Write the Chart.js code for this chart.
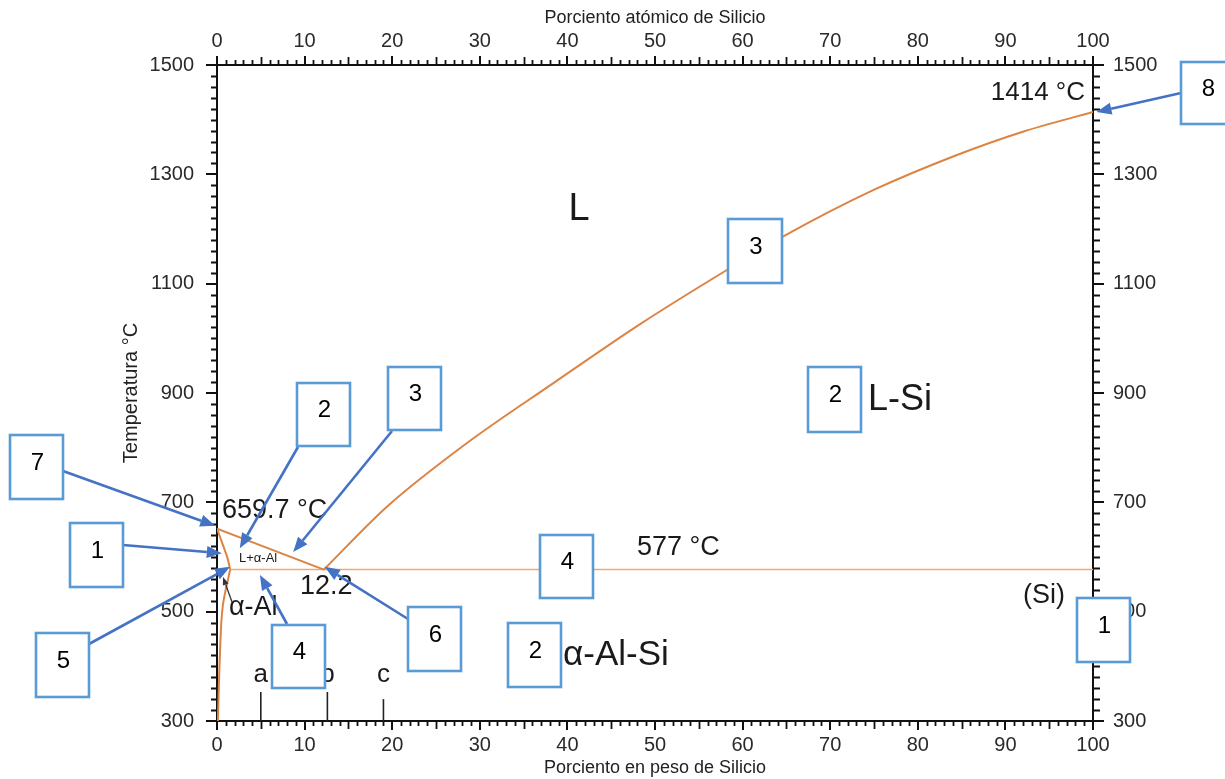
<!DOCTYPE html>
<html><head><meta charset="utf-8">
<script src="https://cdn.jsdelivr.net/npm/chart.js@4.4.1/dist/chart.umd.min.js"></script>
<style>html,body{margin:0;padding:0;background:#fff;}canvas{display:block;}</style>
</head><body>
<canvas id="c" width="1225" height="779"></canvas>
<script>
// ---- data (wt% Si, temperature °C) ----
const liquidusAlWt   = [0, 12.2];
const liquidusAlTemp = [652, 577];
const liquidusSiWt   = [12.2, 19.4, 28.5, 38.4, 48.3, 58.2, 64.6, 74.9, 84.4, 92.0, 100];
const liquidusSiTemp = [577, 692, 808, 918, 1026, 1125, 1186, 1271, 1335, 1378, 1414];
const solidusWt      = [0, 0.65, 1.2, 1.5];
const solidusTemp    = [652, 623, 598, 577];
const solvusWt       = [1.5, 0.65, 0.34, 0.1];
const solvusTemp     = [577, 509, 424, 300];
const eutecticWt     = [1.5, 100];
const eutecticTemp   = [577, 577];
const alloyNames     = ['a', 'b', 'c'];
const alloyWt        = [5, 12.6, 19];
const alloyMarkTop   = [353, 353, 340];
// ---- tick labels ----
const wtTicks   = [0, 10, 20, 30, 40, 50, 60, 70, 80, 90, 100];
const atTicks   = [0, 10, 20, 30, 40, 50, 60, 70, 80, 90, 100];
const tempTicks = [300, 500, 700, 900, 1100, 1300, 1500];

const FONT = '"Liberation Sans", Arial, Helvetica, sans-serif';
const ORANGE = '#DC8444';
const zip = (xs, ys) => xs.map((v, i) => ({x: v, y: ys[i]}));

const lineDs = (label, xs, ys, extra) => Object.assign({
  label, data: zip(xs, ys), showLine: true, pointRadius: 0, borderColor: ORANGE,
  borderWidth: 2, fill: false, tension: 0
}, extra || {});

const datasets = [
  lineDs('Líquidus Al', liquidusAlWt, liquidusAlTemp),
  lineDs('Líquidus Si', liquidusSiWt, liquidusSiTemp, {cubicInterpolationMode: 'monotone'}),
  lineDs('Sólidus', solidusWt, solidusTemp, {tension: 0.35}),
  lineDs('Solvus', solvusWt, solvusTemp, {tension: 0.35}),
  lineDs('Eutéctica', eutecticWt, eutecticTemp, {borderColor: '#EFA976', borderWidth: 1.4}),
];
alloyNames.forEach((n, i) => {
  datasets.push(lineDs('Aleación ' + n, [alloyWt[i], alloyWt[i]], [300, alloyMarkTop[i]],
    {borderColor: '#222', borderWidth: 1.6}));
});

// ---- annotation layout (decoration) ----
const texts = [
  {t: 'L', x: 579, y: 210, size: 38, align: 'center'},
  {t: 'L-Si', x: 868, y: 400, size: 36, align: 'left'},
  {t: 'α-Al-Si', x: 563, y: 655, size: 35, align: 'left'},
  {t: '1414 °C', x: 1085, y: 93, size: 26, align: 'right'},
  {t: '659.7 °C', x: 222, y: 511, size: 27, align: 'left'},
  {t: 'L+α-Al', x: 239, y: 558, size: 13, align: 'left'},
  {t: '12.2', x: 300, y: 587, size: 27, align: 'left'},
  {t: 'α-Al', x: 229, y: 608, size: 27, align: 'left'},
  {t: '577 °C', x: 637, y: 548, size: 27, align: 'left'},
  {t: '(Si)', x: 1023, y: 596, size: 27, align: 'left'},
];
const boxes = [
  {n: '8', x: 1181, y: 62,  w: 53, h: 62, from: [1181, 93], to: [100.4, 1414]},
  {n: '3', x: 728,  y: 219, w: 54, h: 64},
  {n: '2', x: 808,  y: 367, w: 53, h: 65},
  {n: '2', x: 297,  y: 383, w: 53, h: 63, from: [298, 447], to: [2.6, 616]},
  {n: '3', x: 388,  y: 367, w: 53, h: 63, from: [392, 431], to: [8.7, 609]},
  {n: '7', x: 10,   y: 435, w: 53, h: 64, from: [63, 471], to: [-0.2, 657]},
  {n: '1', x: 70,   y: 523, w: 53, h: 64, from: [123, 545], to: [0.55, 607]},
  {n: '5', x: 36,   y: 633, w: 53, h: 64, from: [89, 644], to: [1.5, 582]},
  {n: '4', x: 272,  y: 625, w: 53, h: 63, from: [287, 624], to: [4.9, 567]},
  {n: '6', x: 408,  y: 607, w: 53, h: 64, from: [408, 619], to: [12.3, 582]},
  {n: '4', x: 540,  y: 535, w: 53, h: 63},
  {n: '2', x: 508,  y: 623, w: 53, h: 64},
  {n: '1', x: 1077, y: 598, w: 53, h: 64},
];

function drawArrow(ctx, x1, y1, x2, y2, color, lw, hl, hw) {
  const ang = Math.atan2(y2 - y1, x2 - x1);
  const bx = x2 - hl * Math.cos(ang), by = y2 - hl * Math.sin(ang);
  ctx.strokeStyle = color; ctx.fillStyle = color; ctx.lineWidth = lw;
  ctx.beginPath(); ctx.moveTo(x1, y1); ctx.lineTo(bx, by); ctx.stroke();
  ctx.beginPath();
  ctx.moveTo(x2, y2);
  ctx.lineTo(bx + hw / 2 * Math.sin(ang), by - hw / 2 * Math.cos(ang));
  ctx.lineTo(bx - hw / 2 * Math.sin(ang), by + hw / 2 * Math.cos(ang));
  ctx.closePath(); ctx.fill();
}

const decor = {
  id: 'decor',
  afterDraw(chart) {
    const {ctx, chartArea: a} = chart;
    const sx = chart.scales.x, sy = chart.scales.y;
    ctx.save();
    // minor ticks
    ctx.strokeStyle = '#111'; ctx.lineWidth = 1.8;
    ctx.beginPath();
    for (let v = 1; v < 100; v++) {
      if (v % 10 === 0) continue;
      const px = Math.round(sx.getPixelForValue(v)) + 0.5;
      const len = v % 5 === 0 ? 8 : 5;
      ctx.moveTo(px, a.bottom); ctx.lineTo(px, a.bottom + len);
      ctx.moveTo(px, a.top); ctx.lineTo(px, a.top - len);
    }
    for (let t = 320; t < 1500; t += 20) {
      if ((t - 300) % 200 === 0) continue;
      const py = Math.round(sy.getPixelForValue(t)) + 0.5;
      ctx.moveTo(a.left, py); ctx.lineTo(a.left - 6, py);
      ctx.moveTo(a.right, py); ctx.lineTo(a.right + 7, py);
    }
    ctx.stroke();
    // texts
    ctx.fillStyle = '#1a1a1a'; ctx.textBaseline = 'middle';
    texts.forEach(o => {
      ctx.font = o.size + 'px ' + FONT; ctx.textAlign = o.align; ctx.fillText(o.t, o.x, o.y);
    });
    ctx.font = '26px ' + FONT; ctx.textAlign = 'center';
    alloyNames.forEach((n, i) => ctx.fillText(n, sx.getPixelForValue(alloyWt[i]), 675));
    // small black arrow to the alpha-Al field
    drawArrow(ctx, 232, 602, 223, 577, '#333', 1.3, 8, 6);
    // blue arrows
    boxes.forEach(b => {
      if (!b.from) return;
      drawArrow(ctx, b.from[0], b.from[1], sx.getPixelForValue(b.to[0]), sy.getPixelForValue(b.to[1]),
        '#4472C4', 2.6, 15, 12);
    });
    // boxes
    boxes.forEach(b => {
      ctx.fillStyle = '#fff'; ctx.fillRect(b.x, b.y, b.w, b.h);
      ctx.strokeStyle = '#5B9BD5'; ctx.lineWidth = 2.6; ctx.strokeRect(b.x, b.y, b.w, b.h);
      ctx.fillStyle = '#000'; ctx.font = '24px ' + FONT; ctx.textAlign = 'center'; ctx.textBaseline = 'middle';
      ctx.fillText(b.n, b.x + b.w / 2 + 1, b.y + b.h / 2 - 4);
    });
    ctx.restore();
  }
};

const tickFont = {size: 20, family: FONT};
const plain = v => String(v);
const axisCommon = (extra) => Object.assign({
  type: 'linear',
  border: {display: true, color: '#111', width: 2},
}, extra);

new Chart(document.getElementById('c'), {
  type: 'scatter',
  data: {datasets},
  plugins: [decor],
  options: {
    responsive: false, animation: false, devicePixelRatio: 1,
    layout: {padding: 0},
    plugins: {legend: {display: false}, tooltip: {enabled: false}},
    scales: {
      x: axisCommon({
        position: 'bottom', min: 0, max: 100,
        afterBuildTicks: s => { s.ticks = wtTicks.map(v => ({value: v})); },
        afterFit: s => { s.height = 58; },
        grid: {display: true, drawOnChartArea: false, drawTicks: true, tickLength: 9, color: '#111', lineWidth: 2},
        ticks: {padding: 3, color: '#2a2a2a', font: tickFont, maxRotation: 0, autoSkip: false, callback: plain},
        title: {display: true, text: 'Porciento en peso de Silicio', color: '#222', font: {size: 18, family: FONT}, padding: {top: 0, bottom: 0}}
      }),
      x2: axisCommon({
        position: 'top', min: 0, max: 100,
        afterBuildTicks: s => { s.ticks = atTicks.map(v => ({value: v})); },
        afterFit: s => { s.height = 65; },
        grid: {display: true, drawOnChartArea: false, drawTicks: true, tickLength: 9, color: '#111', lineWidth: 2},
        ticks: {padding: 3, color: '#2a2a2a', font: tickFont, maxRotation: 0, autoSkip: false, callback: plain},
        title: {display: true, text: 'Porciento atómico de Silicio', color: '#222', font: {size: 18, family: FONT}, padding: {top: 7, bottom: 0}}
      }),
      y: axisCommon({
        position: 'left', min: 300, max: 1500,
        afterBuildTicks: s => { s.ticks = tempTicks.map(v => ({value: v})); },
        afterFit: s => { s.width = 217; },
        grid: {display: true, drawOnChartArea: false, drawTicks: true, tickLength: 11, color: '#111', lineWidth: 2},
        ticks: {padding: 12, color: '#2a2a2a', font: tickFont, autoSkip: false, callback: plain},
        title: {display: true, text: 'Temperatura °C', color: '#222', font: {size: 20, family: FONT}, padding: {top: 119, bottom: 0}}
      }),
      y2: axisCommon({
        position: 'right', min: 300, max: 1500,
        afterBuildTicks: s => { s.ticks = tempTicks.map(v => ({value: v})); },
        afterFit: s => { s.width = 132; },
        grid: {display: true, drawOnChartArea: false, drawTicks: true, tickLength: 11, color: '#111', lineWidth: 2},
        ticks: {padding: 9, color: '#2a2a2a', font: tickFont, autoSkip: false, callback: plain}
      })
    }
  }
});
</script>
</body></html>
